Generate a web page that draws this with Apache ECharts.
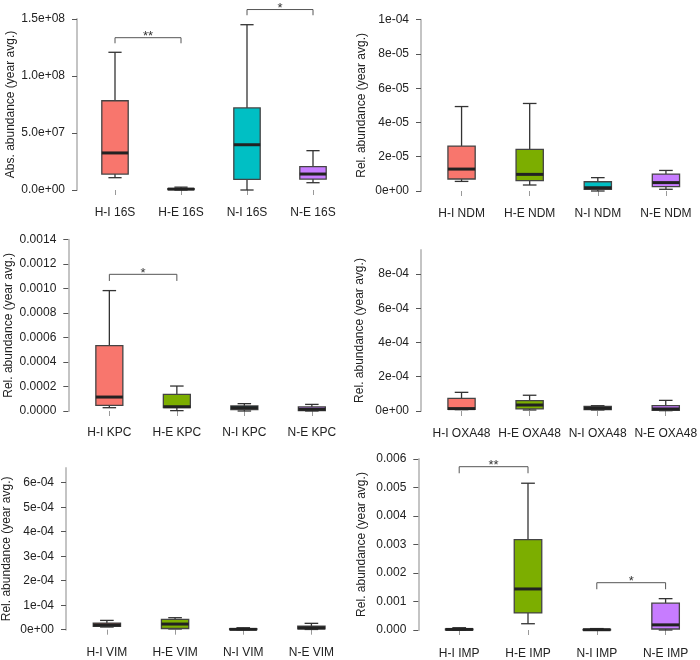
<!DOCTYPE html>
<html><head><meta charset="utf-8">
<script src="https://cdn.jsdelivr.net/npm/echarts@6/dist/echarts.min.js"></script>
<style>html,body{margin:0;padding:0;background:#fff}#c{width:700px;height:660px}</style>
</head><body><div id="c"></div>
<script>
// ---------- DATA ----------
const groups = ['H-I', 'H-E', 'N-I', 'N-E'];
const genes = ['16S', 'NDM', 'KPC', 'OXA48', 'VIM', 'IMP'];
const yTitles = ['Abs. abundance (year avg.)', 'Rel. abundance (year avg.)', 'Rel. abundance (year avg.)',
                 'Rel. abundance (year avg.)', 'Rel. abundance (year avg.)', 'Rel. abundance (year avg.)'];
// each group: [min, Q1, median, Q3, max]
const box16S = [[1.08e7, 1.4e7, 3.25e7, 7.83e7, 1.208e8], [0, 4e5, 8e5, 1.2e6, 2.5e6],
                [0, 9.4e6, 3.97e7, 7.2e7, 1.45e8], [6.4e6, 9.6e6, 1.4e7, 2.05e7, 3.45e7]];
const boxNDM = [[5.6e-6, 7.0e-6, 12.8e-6, 26.2e-6, 49.3e-6], [3.5e-6, 6.0e-6, 9.7e-6, 24.3e-6, 51.1e-6],
                [0, 1.0e-6, 1.9e-6, 5.4e-6, 7.8e-6], [1.0e-6, 2.5e-6, 4.9e-6, 9.9e-6, 12.0e-6]];
const boxKPC = [[2.7e-5, 4.6e-5, 1.14e-4, 5.34e-4, 9.84e-4], [3e-6, 2.7e-5, 3.5e-5, 1.36e-4, 2.04e-4],
                [0, 1.1e-5, 2.7e-5, 4.1e-5, 6.0e-5], [0, 3e-6, 1.4e-5, 3.3e-5, 5.4e-5]];
const boxOXA48 = [[8e-6, 1.0e-5, 1.4e-5, 7.4e-5, 1.09e-4], [6e-6, 1.2e-5, 3.5e-5, 6.1e-5, 9.2e-5],
                  [6e-6, 8e-6, 1.6e-5, 2.7e-5, 3.1e-5], [2e-6, 4e-6, 1.2e-5, 3.1e-5, 6.2e-5]];
const boxVIM = [[1.1e-5, 1.4e-5, 1.9e-5, 2.7e-5, 3.8e-5], [3e-6, 5e-6, 2.3e-5, 4.2e-5, 4.9e-5],
                [0, 5e-7, 1.4e-6, 4e-6, 8e-6], [1e-6, 3e-6, 7e-6, 1.4e-5, 2.6e-5]];
const boxIMP = [[0, 5e-6, 2e-5, 3.5e-5, 8e-5], [2.2e-4, 6.0e-4, 1.44e-3, 3.17e-3, 5.15e-3],
                [0, 0, 1e-5, 2e-5, 5e-5], [0, 3.5e-5, 1.8e-4, 9.4e-4, 1.10e-3]];
const allBoxes = [box16S, boxNDM, boxKPC, boxOXA48, boxVIM, boxIMP];

// y-axis tick values and labels
const ticks16S = [0, 5e7, 1e8, 1.5e8];
const labels16S = ['0.0e+00', '5.0e+07', '1.0e+08', '1.5e+08'];
const ticksNDM = [0, 2e-5, 4e-5, 6e-5, 8e-5, 1e-4];
const labelsNDM = ['0e+00', '2e-05', '4e-05', '6e-05', '8e-05', '1e-04'];
const ticksKPC = [0, 2e-4, 4e-4, 6e-4, 8e-4, 1e-3, 1.2e-3, 1.4e-3];
const labelsKPC = ['0.0000', '0.0002', '0.0004', '0.0006', '0.0008', '0.0010', '0.0012', '0.0014'];
const ticksOXA48 = [0, 2e-4, 4e-4, 6e-4, 8e-4];
const labelsOXA48 = ['0e+00', '2e-04', '4e-04', '6e-04', '8e-04'];
const ticksVIM = [0, 1e-4, 2e-4, 3e-4, 4e-4, 5e-4, 6e-4];
const labelsVIM = ['0e+00', '1e-04', '2e-04', '3e-04', '4e-04', '5e-04', '6e-04'];
const ticksIMP = [0, 1e-3, 2e-3, 3e-3, 4e-3, 5e-3, 6e-3];
const labelsIMP = ['0.000', '0.001', '0.002', '0.003', '0.004', '0.005', '0.006'];
const allTicks = [ticks16S, ticksNDM, ticksKPC, ticksOXA48, ticksVIM, ticksIMP];
const allLabels = [labels16S, labelsNDM, labelsKPC, labelsOXA48, labelsVIM, labelsIMP];
const yMaxes = [1.5e8, 1e-4, 1.4e-3, 9.4e-4, 6.6e-4, 6e-3];

// significance brackets: [fromGroup, toGroup, dropEnd, barLevel]
const sig16S = [[0, 1, 1.287e8, 1.336e8], [2, 3, 1.533e8, 1.583e8]];
const sig16SStars = ['**', '*'];
const sigKPC = [[0, 1, 1.063e-3, 1.117e-3]];
const sigKPCStars = ['*'];
const sigIMP = [[0, 1, 5.5e-3, 5.73e-3], [2, 3, 1.43e-3, 1.66e-3]];
const sigIMPStars = ['**', '*'];
const allSig = [sig16S, [], sigKPC, [], [], sigIMP];
const allStars = [sig16SStars, [], sigKPCStars, [], [], sigIMPStars];

// ---------- STYLE / LAYOUT ----------
const fills = ['#F8766D', '#7CAE00', '#00BFC4', '#C77CFF'];
const FONT = "'Liberation Sans', Arial, Helvetica, sans-serif";
const layout = [
  {left: 82,    top: 19,    width: 264, height: 171,   yOff: 5,   gap: 60, xOff: 9},
  {left: 427.5, top: 19.7,  width: 273, height: 171.3, yOff: 6.5, gap: 53, xOff: 9},
  {left: 75.6,  top: 239.7, width: 270, height: 171.3, yOff: 7.3, gap: 54, xOff: 8},
  {left: 427.5, top: 250,   width: 273, height: 161,   yOff: 6.5, gap: 55, xOff: 8.3},
  {left: 72.5,  top: 468,   width: 273, height: 161.7, yOff: 6.8, gap: 53, xOff: 9.3},
  {left: 424.8, top: 459,   width: 276, height: 171,   yOff: 6.5, gap: 50.5, xOff: 9.3}
];

const grids = [], xAxes = [], yAxes = [], series = [];
layout.forEach((L, p) => {
  grids.push({left: L.left, top: L.top, width: L.width, height: L.height, containLabel: false});
  xAxes.push({
    type: 'category', gridIndex: p, data: groups.map(g => g + ' ' + genes[p]),
    boundaryGap: true, offset: L.xOff,
    axisLine: {show: false},
    axisTick: {show: true, alignWithLabel: true, length: 5, lineStyle: {color: '#999', width: 1}},
    axisLabel: {margin: 8, color: '#222', fontSize: 12, fontFamily: FONT, interval: 0},
    splitLine: {show: false}
  });
  const tv = allTicks[p], tl = allLabels[p];
  yAxes.push({
    type: 'value', gridIndex: p, min: 0, max: yMaxes[p], offset: L.yOff,
    name: yTitles[p], nameLocation: 'middle', nameGap: L.gap,
    nameTextStyle: {color: '#222', fontSize: 12, fontFamily: FONT},
    axisLine: {show: true, lineStyle: {color: '#c4c4c4', width: 2}},
    axisTick: {show: true, length: 5, customValues: tv, lineStyle: {color: '#555', width: 1}},
    axisLabel: {
      customValues: tv, margin: 12, color: '#222', fontSize: 12, fontFamily: FONT,
      formatter: v => {
        let best = 0;
        tv.forEach((t, i) => { if (Math.abs(t - v) < Math.abs(tv[best] - v)) best = i; });
        return tl[best];
      }
    },
    splitLine: {show: false}
  });
  const boxes = allBoxes[p];
  series.push({
    type: 'custom', xAxisIndex: p, yAxisIndex: p, clip: false,
    encode: {x: 0, y: [1, 2, 3, 4, 5]},
    data: boxes.map((b, i) => [i].concat(b)),
    renderItem: (params, api) => {
      const x = api.value(0);
      const pMin = api.coord([x, api.value(1)]);
      const pQ1 = api.coord([x, api.value(2)]);
      const pMed = api.coord([x, api.value(3)]);
      const pQ3 = api.coord([x, api.value(4)]);
      const pMax = api.coord([x, api.value(5)]);
      const band = api.size([1, 0])[0];
      const bw = band * 0.4, cw = bw * 0.5;
      const cx = pMed[0];
      const ls = {stroke: '#333', lineWidth: 1.3};
      return {
        type: 'group',
        children: [
          {type: 'line', shape: {x1: cx, y1: pMax[1], x2: cx, y2: pQ3[1]}, style: ls},
          {type: 'line', shape: {x1: cx, y1: pQ1[1], x2: cx, y2: pMin[1]}, style: ls},
          {type: 'line', shape: {x1: cx - cw / 2, y1: pMax[1], x2: cx + cw / 2, y2: pMax[1]}, style: ls},
          {type: 'line', shape: {x1: cx - cw / 2, y1: pMin[1], x2: cx + cw / 2, y2: pMin[1]}, style: ls},
          {type: 'rect', shape: {x: cx - bw / 2, y: pQ3[1], width: bw, height: pQ1[1] - pQ3[1]},
           style: {fill: fills[params.dataIndex], stroke: '#444', lineWidth: 1.3}},
          {type: 'line', shape: {x1: cx - bw / 2, y1: pMed[1], x2: cx + bw / 2, y2: pMed[1]},
           style: {stroke: '#222', lineWidth: 3}}
        ]
      };
    }
  });
  if (allSig[p].length) {
    const stars = allStars[p];
    series.push({
      type: 'custom', xAxisIndex: p, yAxisIndex: p, clip: false,
      encode: {x: [0, 1], y: [2, 3]},
      data: allSig[p],
      renderItem: (params, api) => {
        const a = api.coord([api.value(0), api.value(3)]);
        const b = api.coord([api.value(1), api.value(3)]);
        const a2 = api.coord([api.value(0), api.value(2)]);
        const b2 = api.coord([api.value(1), api.value(2)]);
        return {
          type: 'group',
          children: [
            {type: 'polyline', shape: {points: [a2, a, b, b2]}, style: {stroke: '#555', lineWidth: 1, fill: null}},
            {type: 'text', style: {text: stars[params.dataIndex], x: (a[0] + b[0]) / 2, y: a[1] - 1,
              align: 'center', verticalAlign: 'middle', fill: '#333', fontSize: 13, fontFamily: FONT}}
          ]
        };
      }
    });
  }
});

const chart = echarts.init(document.getElementById('c'), null, {renderer: 'canvas'});
chart.setOption({
  backgroundColor: '#fff',
  animation: false,
  grid: grids, xAxis: xAxes, yAxis: yAxes, series: series
});
</script></body></html>
